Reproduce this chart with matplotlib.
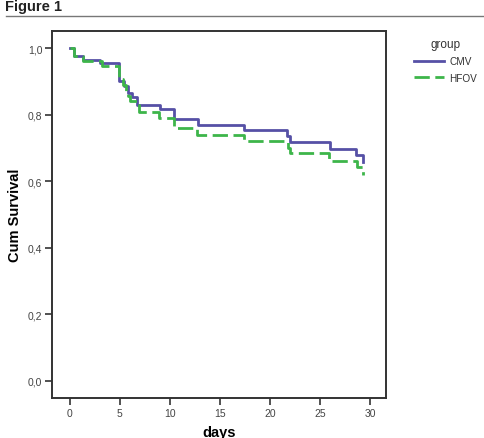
import matplotlib
matplotlib.use("Agg")
import matplotlib.pyplot as plt

plt.rcParams['font.family'] = ['Liberation Sans', 'DejaVu Sans']

# Kaplan-Meier step data
cmv_days = [0.0, 0.4, 1.3, 3.0, 4.95, 5.4, 5.8, 6.2, 6.7, 9.0, 10.4, 12.8, 17.4, 21.7, 22.0, 26.0, 28.6, 29.3]
cmv_surv = [1.0, 0.977, 0.965, 0.955, 0.902, 0.887, 0.865, 0.852, 0.829, 0.817, 0.787, 0.770, 0.754, 0.737, 0.719, 0.697, 0.679, 0.659]

hfov_days = [0.0, 0.4, 1.3, 3.2, 4.95, 5.3, 5.6, 5.8, 6.0, 6.9, 8.9, 10.4, 12.7, 17.45, 21.8, 22.0, 25.9, 28.7, 29.3]
hfov_surv = [1.0, 0.977, 0.962, 0.947, 0.907, 0.890, 0.872, 0.857, 0.840, 0.807, 0.790, 0.760, 0.740, 0.722, 0.700, 0.685, 0.662, 0.642, 0.619]

xticks = [0, 5, 10, 15, 20, 25, 30]
yticks = [0.0, 0.2, 0.4, 0.6, 0.8, 1.0]
ytick_labels = ["0,0", "0,2", "0,4", "0,6", "0,8", "1,0"]

fig = plt.figure(figsize=(4.84, 4.39), dpi=100)
ax = fig.add_axes([0.1074, 0.0911, 0.690, 0.836])

l1, = ax.step(cmv_days, cmv_surv, where='post', color='#5650a6', lw=2.0, label='CMV')
l2, = ax.step(hfov_days, hfov_surv, where='post', color='#3db54a', lw=2.0,
              dashes=(5.5, 2.0), label='HFOV')

ax.set_xlim(-1.75, 31.59)
ax.set_ylim(-0.052, 1.0517)
ax.set_xticks(xticks)
ax.set_xticklabels([str(t) for t in xticks])
ax.set_yticks(yticks)
ax.set_yticklabels(ytick_labels)
ax.tick_params(direction='out', length=5, width=1.2, color='#333333',
               labelsize=7.5, labelcolor='#444444', pad=2)
for s in ax.spines.values():
    s.set_linewidth(1.4)
    s.set_color('#333333')

ax.set_xlabel('days', fontsize=10.5, fontweight='bold', labelpad=5)
ax.set_ylabel('Cum Survival', fontsize=10.5, fontweight='bold', labelpad=4)

leg = ax.legend(handles=[l1, l2], title='group', loc='upper left',
                bbox_to_anchor=(1.072, 0.992), frameon=False, fontsize=7.2,
                title_fontsize=8.5, handlelength=3.0, handletextpad=0.55,
                labelspacing=0.65, borderaxespad=0.0)
leg._legend_box.align = 'center'
leg.get_title().set_color('#333333')
for t in leg.get_texts():
    t.set_color('#333333')

fig.text(5 / 484, 1 - 11 / 439, 'Figure 1', fontsize=10.5, fontweight='bold',
         va='baseline', ha='left', color='#222222')
fig.add_artist(plt.Line2D([6 / 484, 1.0], [1 - 17 / 439, 1 - 17 / 439],
                          color='#777777', lw=1.0))

fig.savefig('out.png', dpi=100)
